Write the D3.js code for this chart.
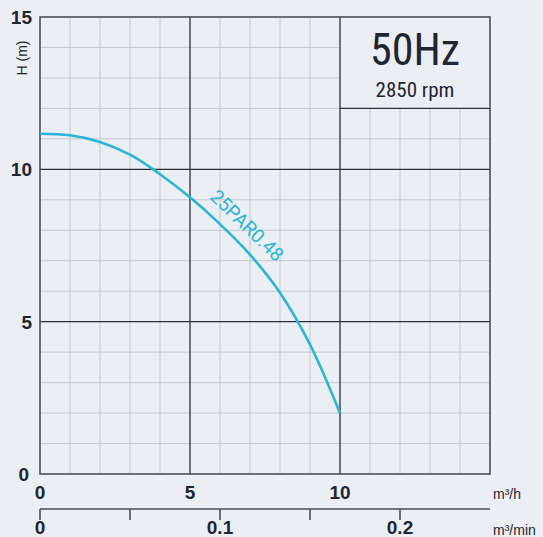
<!DOCTYPE html>
<html><head><meta charset="utf-8">
<script src="https://cdn.jsdelivr.net/npm/d3@7"></script>
<style>
html,body{margin:0;padding:0;background:#ebeff3;}
svg{display:block;}
</style></head>
<body>
<script>
// ---- data ----
const flowQ = [0, 1, 2, 3, 4, 5, 6, 7, 8, 9, 10];             // m3/h
const headH = [11.17, 11.12, 10.90, 10.48, 9.84, 9.08, 8.20, 7.20, 5.95, 4.25, 2.0]; // m
const xTicks = [0, 5, 10];
const yTicks = [0, 5, 10, 15];
const x2Ticks = [0, 0.05, 0.1, 0.15, 0.2];
const x2Labels = [0, 0.1, 0.2];
const seriesName = "25PAR0.48";
const freqText = "50Hz";
const rpmText = "2850 rpm";

const W = 543, H = 537;
const svg = d3.select("body").append("svg").attr("width", W).attr("height", H);
svg.append("rect").attr("width", W).attr("height", H).attr("fill", "#ebeff3");

const x = d3.scaleLinear().domain([0, 15]).range([40, 490]);
const y = d3.scaleLinear().domain([0, 15]).range([474, 17]);
const x2 = d3.scaleLinear().domain([0, 0.25]).range([40, 490]);

const g = svg.append("g");
const minor = d3.range(1, 15).filter(v => v % 5 !== 0);
// minor grid
g.selectAll(".vx").data(minor).join("line")
  .attr("x1", d => x(d)).attr("x2", d => x(d)).attr("y1", y(15)).attr("y2", y(0))
  .attr("stroke", "#c4c8cd").attr("stroke-width", 1);
g.selectAll(".hy").data(minor).join("line")
  .attr("y1", d => y(d)).attr("y2", d => y(d)).attr("x1", x(0)).attr("x2", x(15))
  .attr("stroke", "#c4c8cd").attr("stroke-width", 1);
// box background covering grid
g.append("rect").attr("x", x(10)).attr("y", y(15)).attr("width", x(15) - x(10)).attr("height", y(12) - y(15))
  .attr("fill", "#ebeff3");
// major grid
[5, 10].forEach(v => {
  g.append("line").attr("x1", x(v)).attr("x2", x(v)).attr("y1", y(15)).attr("y2", y(0))
    .attr("stroke", "#2b2f36").attr("stroke-width", 1.3);
  g.append("line").attr("y1", y(v)).attr("y2", y(v)).attr("x1", x(0)).attr("x2", x(15))
    .attr("stroke", "#2b2f36").attr("stroke-width", 1.3);
});
// box bottom
g.append("line").attr("x1", x(10)).attr("x2", x(15)).attr("y1", y(12)).attr("y2", y(12))
  .attr("stroke", "#2b2f36").attr("stroke-width", 1.3);
// frame
g.append("rect").attr("x", x(0)).attr("y", y(15)).attr("width", x(15) - x(0)).attr("height", y(0) - y(15))
  .attr("fill", "none").attr("stroke", "#4a4e56").attr("stroke-width", 1.6);

// box text
svg.append("text").attr("x", (x(10) + x(15)) / 2).attr("y", 65).attr("text-anchor", "middle")
  .attr("font-family", "'Liberation Sans Narrow', 'Roboto Condensed', Roboto, sans-serif")
  .attr("font-size", 44).attr("fill", "#1f2533").text(freqText);
svg.append("text").attr("x", (x(10) + x(15)) / 2).attr("y", 97).attr("text-anchor", "middle")
  .attr("font-family", "'Liberation Sans Narrow', 'Roboto Condensed', Roboto, sans-serif")
  .attr("font-size", 21).attr("fill", "#1f2533").text(rpmText);

// curve
const pts = flowQ.map((q, i) => [q, headH[i]]);
const line = d3.line().x(d => x(d[0])).y(d => y(d[1])).curve(d3.curveCatmullRom.alpha(0.5));
svg.append("path").attr("d", line(pts)).attr("fill", "none")
  .attr("stroke", "#2ab4d7").attr("stroke-width", 2.6);

// series label
svg.append("text").attr("transform", `translate(${x(6.75)},${y(8.0)}) rotate(44)`)
  .attr("text-anchor", "middle").attr("font-family", "Roboto, 'Liberation Sans', sans-serif")
  .attr("font-size", 19).attr("fill", "#2ab4d7").text(seriesName);

// y axis labels
const fNum = "'Liberation Sans', Arial, sans-serif";
svg.selectAll(".yl").data(yTicks).join("text")
  .attr("x", d => d === 0 ? 29 : 32).attr("y", d => y(d) + 7)
  .attr("text-anchor", "end").attr("font-family", fNum).attr("font-weight", "bold")
  .attr("font-size", 19).attr("fill", "#1f2533").text(d => d);
svg.append("text").attr("transform", "translate(27,58) rotate(-90)")
  .attr("text-anchor", "middle").attr("font-family", fNum).attr("font-size", 14)
  .attr("fill", "#1f2533").text("H (m)");

// x axis labels
svg.selectAll(".xl").data(xTicks).join("text")
  .attr("x", d => x(d)).attr("y", 499).attr("text-anchor", "middle")
  .attr("font-family", fNum).attr("font-weight", "bold").attr("font-size", 19)
  .attr("fill", "#1f2533").text(d => d);
svg.append("text").attr("x", 493).attr("y", 499).attr("font-family", "'Liberation Sans Narrow', " + fNum)
  .attr("font-size", 14).attr("fill", "#1f2533").text("m³/h");

// secondary axis
const a2 = svg.append("g");
a2.append("line").attr("x1", x2(0)).attr("x2", x2(0.25)).attr("y1", 509).attr("y2", 509)
  .attr("stroke", "#4a4e56").attr("stroke-width", 1.6);
a2.selectAll(".t2").data(x2Ticks).join("line")
  .attr("x1", d => x2(d)).attr("x2", d => x2(d)).attr("y1", 509).attr("y2", 520)
  .attr("stroke", "#4a4e56").attr("stroke-width", 1.6);
svg.selectAll(".xl2").data(x2Labels).join("text")
  .attr("x", d => x2(d)).attr("y", 534).attr("text-anchor", "middle")
  .attr("font-family", fNum).attr("font-weight", "bold").attr("font-size", 19)
  .attr("fill", "#1f2533").text(d => d);
svg.append("text").attr("x", 493).attr("y", 535).attr("font-family", "'Liberation Sans Narrow', " + fNum)
  .attr("font-size", 14).attr("fill", "#1f2533").text("m³/min");
</script>
</body></html>
